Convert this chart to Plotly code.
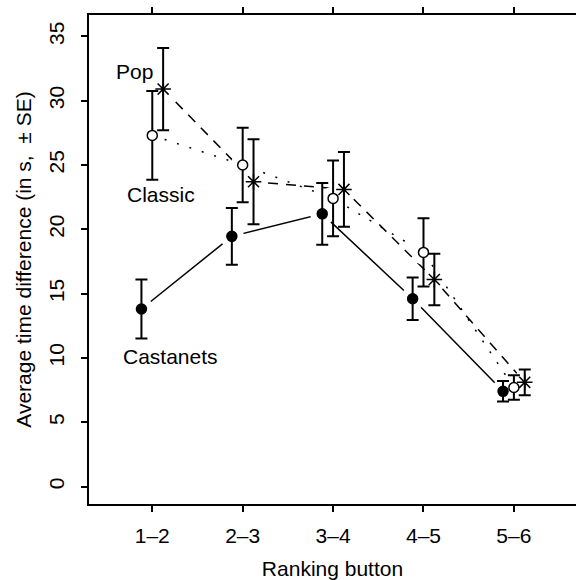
import plotly.graph_objects as go

categories = ["1–2", "2–3", "3–4", "4–5", "5–6"]
positions = [1, 2, 3, 4, 5]

castanets_mean = [13.8, 19.45, 21.2, 14.6, 7.4]
castanets_se = [2.3, 2.2, 2.4, 1.65, 0.8]
classic_mean = [27.3, 25.0, 22.4, 18.2, 7.7]
classic_se = [3.45, 2.9, 2.95, 2.65, 0.95]
pop_mean = [30.9, 23.7, 23.1, 16.1, 8.1]
pop_se = [3.2, 3.3, 2.9, 2.0, 1.0]

y_ticks = [0, 5, 10, 15, 20, 25, 30, 35]

FONT = "Liberation Sans, Arial, Helvetica, sans-serif"

series = [
    dict(name="Castanets", mean=castanets_mean, se=castanets_se, offset=-0.12,
         dash="solid", symbol="circle", fill="black", size=10, label_pos=(1.196, 10.07)),
    dict(name="Classic", mean=classic_mean, se=classic_se, offset=0.0,
         dash="2px,11px", symbol="circle", fill="white", size=10, label_pos=(1.10, 22.7)),
    dict(name="Pop", mean=pop_mean, se=pop_se, offset=0.12,
         dash="10px,8px", symbol="asterisk-open", fill="black", size=13, label_pos=(0.80, 32.3)),
]

fig = go.Figure()

# connecting lines
for s in series:
    xs = [p + s["offset"] for p in positions]
    fig.add_trace(go.Scatter(
        x=xs, y=s["mean"], mode="lines", showlegend=False, hoverinfo="skip",
        line=dict(color="black", width=1.5, dash=s["dash"]),
    ))

# white gaps around points (type="b" style)
for s in series:
    xs = [p + s["offset"] for p in positions]
    fig.add_trace(go.Scatter(
        x=xs, y=s["mean"], mode="markers", showlegend=False, hoverinfo="skip",
        marker=dict(color="white", size=24, line=dict(width=0)),
    ))

# points with error bars
for s in series:
    xs = [p + s["offset"] for p in positions]
    fig.add_trace(go.Scatter(
        x=xs, y=s["mean"], mode="markers", name=s["name"], showlegend=False,
        error_y=dict(type="data", array=s["se"], visible=True, color="black",
                     thickness=2, width=6),
        marker=dict(symbol=s["symbol"], size=s["size"], color=s["fill"],
                    line=dict(color="black", width=1.5)),
    ))
    fig.add_annotation(x=s["label_pos"][0], y=s["label_pos"][1], text=s["name"],
                       showarrow=False, xanchor="center", yanchor="middle",
                       font=dict(family=FONT, size=21, color="black"))

fig.update_layout(
    width=576, height=580,
    margin=dict(l=89, r=0, t=15, b=76),
    paper_bgcolor="white", plot_bgcolor="white",
    font=dict(family=FONT, size=21, color="black"),
    showlegend=False,
    xaxis=dict(
        range=[0.30, 5.687], tickvals=positions, ticktext=categories,
        showline=True, linecolor="black", linewidth=1.5, mirror="ticks",
        ticks="outside", ticklen=6, tickwidth=1.5, tickcolor="black",
        ticklabelstandoff=6,
        showgrid=False, zeroline=False,
        title=dict(text="Ranking button", standoff=16, font=dict(size=21)),
    ),
    yaxis=dict(
        range=[-1.36, 36.66], tickvals=y_ticks,
        tickangle=-90, ticklabelstandoff=9,
        showline=True, linecolor="black", linewidth=1.5, mirror=False,
        ticks="outside", ticklen=6, tickwidth=1.5, tickcolor="black",
        showgrid=False, zeroline=False,
        title=dict(text="Average time difference (in s,  ± SE)", standoff=7, font=dict(size=21)),
    ),
)

fig.write_html("out.html")
